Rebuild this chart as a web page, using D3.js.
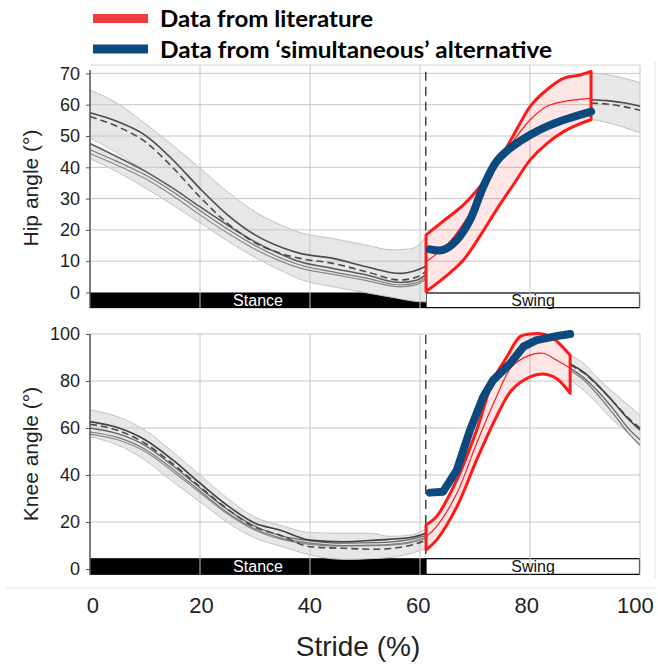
<!DOCTYPE html>
<html><head><meta charset="utf-8">
<script src="https://cdn.jsdelivr.net/npm/d3@7"></script>
<style>body{margin:0;background:#fff}svg{display:block}</style>
</head><body>
<svg id="c" width="658" height="664"></svg>
<script>
// ---------- DATA ----------
const xTicks = [0, 20, 40, 60, 80, 100];
const hipTicks = [0, 10, 20, 30, 40, 50, 60, 70];
const kneeTicks = [0, 20, 40, 60, 80, 100];
const toeOff = 61.1;
const legendLabels = ["Data from literature", "Data from \u2018simultaneous\u2019 alternative"];

// Hip - stance (normative gray)
const hipBandUpper = [[0,64.7],[5,60.4],[10,54],[15,47.1],[20,39.7],[25,32.2],[30,25.8],[35,21.3],[38.2,19.1],[44,17.3],[50,15.2],[55,13.6],[58.5,14],[61.1,17.8]];
const hipBandLower = [[0,42.8],[5,38.5],[10,33.5],[15,28],[20,22.3],[25,16.5],[30,11.2],[35,6.8],[38.2,4.2],[44,1.9],[50,0],[56,-1.9],[59.5,-2.9],[61.1,-3]];
const hipGapTop = [[0,49.4],[3,46.6],[6,43.4],[9,40]];
const hipGapBottom = [[0,47.6],[3,45.1],[6,42.5],[9,40]];
const hipSolid = [[0,57.4],[5,54.6],[10,50.3],[15,42.5],[20,33.2],[25,24.8],[30,18.4],[35,14.3],[38.2,12.5],[44.2,10.9],[50.3,8.2],[56.4,6.1],[59.5,7.2],[61.1,8.4]];
const hipDash = [[0,56.2],[5,53],[10,48.2],[15,40],[20,30.5],[25,22.1],[30,15.9],[35,12.3],[38.2,10.9],[44.2,9.3],[50.3,6.6],[56.4,4],[59.5,5],[61.1,6.8]];
const hipL1 = [[0,47.6],[5,43.3],[10,38.8],[15,33.4],[20,27.4],[25,21.5],[30,16.2],[35,12],[38.2,9.8],[44.2,7.7],[50.3,5.6],[56.4,3.2],[59.5,4],[61.1,5.8]];
const hipL2 = [[0,45.6],[5,41.8],[10,37.6],[15,32.3],[20,26.2],[25,20.3],[30,15],[35,10.8],[38.2,8.8],[44.2,6.6],[50.3,4.6],[56.4,2.4],[59.5,3.2],[61.1,5]];
const hipL3 = [[0,44.4],[5,40.6],[10,36.4],[15,31],[20,24.8],[25,19],[30,13.8],[35,9.8],[38.2,7.8],[44.2,5.8],[50.3,3.8],[56.4,1.8],[59.5,2.6],[61.1,4.4]];
// Hip - late swing (normative gray)
const hipBandUpperR = [[91.1,70.2],[94,69.6],[97,68.5],[100,67]];
const hipBandLowerR = [[91.1,55.3],[94,54.3],[97,52.8],[100,51]];
const hipSolidR = [[91.1,61.6],[94,61.3],[97,60.6],[100,59.5]];
const hipDashR = [[91.1,60.5],[94,60.2],[97,59.4],[100,58.2]];
// Hip - swing, literature (red) and alternative (blue)
const hipLitUpper = [[61.1,18.4],[64,22.5],[67.9,28],[71,34],[73.9,40.8],[76.6,49],[78.5,55],[80,59.4],[83,64.7],[86.1,68.4],[89.1,69.5],[91.1,70.6]];
const hipLitLower = [[61.1,0.3],[64.9,5.5],[67.9,10.4],[70.9,18],[73.9,26.4],[77,34.5],[80,42.3],[83,47.5],[86.1,51.4],[88.5,53.5],[91.1,55.2]];
const hipLitMean = [[61.1,9.8],[64.9,15.2],[67.9,22.1],[70.9,30.6],[73.9,40.2],[76.9,48.2],[80,55.1],[83,59.4],[86.1,61],[91.1,62]];
const hipAlt = [[61.8,13.8],[64.2,13.6],[66.7,16.8],[69.1,23.2],[71.5,33.8],[73.9,41.8],[76.4,46.1],[80,50.3],[83,53],[86.1,55.1],[91.1,57.8]];

// Knee - stance (normative gray)
const kneeBandUpper = [[0,67.7],[5,64.8],[10,59.1],[15,49.9],[20,40],[25,30.1],[30,22],[34.5,18.7],[40,15.5],[46,15.2],[51,15.2],[54.5,13.9],[58.5,14.5],[61.1,17.3]];
const kneeBandLower = [[0,56.3],[5,52.8],[10,46.4],[15,37.2],[20,28.6],[25,19.8],[30,13.2],[35,9.5],[40,6],[46,4.1],[51,4.4],[55,5],[58.5,6.7],[61.1,8.8]];
const kneeSolid = [[0,62.7],[5,60.2],[10,55],[15,46.5],[20,36.5],[25,27],[30,19.5],[34.5,16.6],[40,12.3],[46,11.6],[52,12.3],[58.5,13.5],[61.1,15.2]];
const kneeDash = [[0,61.6],[5,59],[10,53.5],[15,44.8],[20,35],[25,25.5],[30,17.8],[34.5,14.5],[40,9.5],[46,8.8],[52,8.4],[58.5,10.2],[61.1,12.3]];
const kneeG1 = [[0,60],[5,57.6],[10,52.6],[15,44],[20,34.5],[25,25.3],[30,18.2],[35,14],[40,12],[46,11],[52,11.2],[58,12.5],[61.1,14.2]];
const kneeG2 = [[0,58.3],[5,56],[10,51],[15,42.6],[20,33.2],[25,24],[30,17],[35,13],[40,11],[46,10],[52,10.2],[58,11.5],[61.1,13.5]];
const kneeG3 = [[0,57.4],[5,55],[10,50],[15,41.6],[20,32.4],[25,23.4],[30,16.5],[35,12.5],[40,10.5],[46,9.7],[52,9.9],[58,11],[61.1,13]];
// Knee - late swing (normative gray)
const kneeBandUpperR = [[87.3,91],[90,87],[92,82],[95,75.5],[98.5,68.5],[100,65.5]];
const kneeBandLowerR = [[87.3,80.5],[90,75.5],[92,71],[95,63.5],[98.5,56.3],[100,52]];
const kneeSolidR = [[87.3,87.2],[90,83.3],[92,79],[95,71.5],[98,63.5],[100,59.2]];
const kneeDashR = [[87.3,86.8],[90,83],[92,78.8],[95,71.5],[98,64],[100,60]];
const kneeG1R = [[87.3,85.5],[90,81],[92,76.5],[95,68.5],[98,59.5],[100,55]];
const kneeG2R = [[87.3,84.5],[90,80],[92,75],[95,66.5],[98,57.5],[100,52.8]];
// Knee - swing, literature (red) and alternative (blue)
const kneeLitUpper = [[61.1,18.7],[63,22.3],[66.7,37.9],[70.3,59.1],[73.3,80.4],[75.8,90.3],[78.2,98.9],[80,100],[82.4,100],[84.2,98.2],[87.3,91]];
const kneeLitLower = [[61.1,8.1],[63,12.3],[66.7,26.5],[70.3,46.4],[73.9,64.8],[76.7,76.2],[80,81.8],[82.4,83],[84.8,81.1],[87.3,74.8]];
const kneeLitMean = [[61.1,13.7],[63,18],[66.7,32.2],[70.3,53.5],[73.9,73.3],[76.7,86.1],[80,91],[82.4,91.8],[84.8,88.9],[87.3,85.4]];
const kneeAlt = [[61.8,32.5],[64.2,32.9],[66.7,42.1],[69.1,59.1],[71.5,73.3],[73.3,80.4],[76.4,87.5],[78.8,94.6],[81.2,97.4],[84.8,99.1],[87.3,100]];

// ---------- DRAW ----------
const svg = d3.select("#c");
const FONT = "'Liberation Sans', Arial, sans-serif";
const x = d3.scaleLinear().domain([0, 100]).range([90, 640]);
const xLab = d3.scaleLinear().domain([0, 100]).range([92.4, 634.8]);

const RED = "#ff1a1a", BLUE = "#0b4a7e";

// faint outer frame of embedded figure
svg.append("line").attr("x1", 655).attr("x2", 655).attr("y1", 62).attr("y2", 578).attr("stroke", "#e4e4e4");
svg.append("line").attr("x1", 6).attr("x2", 655).attr("y1", 588).attr("y2", 588).attr("stroke", "#e8e8e8");

const panels = [
  { y: d3.scaleLinear().domain([0, 70]).range([292.5, 73.4]), top: 65, barTop: 0, barBot: -5, ticks: hipTicks,
    title: "Hip angle (\u00b0)", titleY: 188,
    bands: [[hipBandUpper, hipBandLower], [hipBandUpperR, hipBandLowerR]], gap: [hipGapTop, hipGapBottom],
    lines: [[hipL3, "#8a8a8a", 1.2, null], [hipL2, "#777", 1.2, null], [hipL1, "#5a5a5a", 1.5, null], [hipSolid, "#4a4a4a", 1.6, null], [hipDash, "#4a4a4a", 1.6, "7,4"],
            [hipSolidR, "#4a4a4a", 1.6, null], [hipDashR, "#4a4a4a", 1.6, "7,4"]],
    litU: hipLitUpper, litL: hipLitLower, litM: hipLitMean, alt: hipAlt, altCurve: d3.curveCatmullRom.alpha(0.5),
    dashTop: 71.7 },
  { y: d3.scaleLinear().domain([0, 100]).range([569, 334]), top: 334, barTop: 4.6, barBot: -2.5, ticks: kneeTicks,
    title: "Knee angle (\u00b0)", titleY: 454,
    bands: [[kneeBandUpper, kneeBandLower], [kneeBandUpperR, kneeBandLowerR]], gap: null,
    lines: [[kneeG3, "#8a8a8a", 1.2, null], [kneeG2, "#777", 1.2, null], [kneeG1, "#666", 1.3, null], [kneeSolid, "#3f3f3f", 1.6, null], [kneeDash, "#4a4a4a", 1.6, "7,4"],
            [kneeG2R, "#777", 1.2, null], [kneeG1R, "#666", 1.3, null], [kneeSolidR, "#3f3f3f", 1.6, null], [kneeDashR, "#4a4a4a", 1.6, "7,4"]],
    litU: kneeLitUpper, litL: kneeLitLower, litM: kneeLitMean, alt: kneeAlt, altCurve: d3.curveLinear,
    dashTop: 335 }
];

function outline(upper, lower, lineGen) {
  const u = lineGen(upper);
  const l = lineGen(lower.slice().reverse());
  return u + "L" + l.substring(1) + "Z";
}

panels.forEach(p => {
  const g = svg.append("g");
  const y = p.y;
  const lineM = d3.line().x(d => x(d[0])).y(d => y(d[1])).curve(d3.curveMonotoneX);
  const lineC = d3.line().x(d => x(d[0])).y(d => y(d[1])).curve(d3.curveCatmullRom.alpha(0.5));
  const yBarTop = y(p.barTop), yBarBot = y(p.barBot);

  // phase bars
  g.append("rect").attr("x", x(0)).attr("y", yBarTop).attr("width", x(toeOff) - x(0)).attr("height", yBarBot - yBarTop).attr("fill", "#000");
  g.append("rect").attr("x", x(toeOff)).attr("y", yBarTop + 0.5).attr("width", x(100) - x(toeOff) - 0.5).attr("height", yBarBot - yBarTop - 1)
    .attr("fill", "#fff").attr("stroke", "#000").attr("stroke-width", 1.2);

  // normative bands
  p.bands.forEach(([u, l]) => {
    g.append("path").attr("d", outline(u, l, lineC)).attr("fill", "#e7e7e7").attr("stroke", "none");
    g.append("path").attr("d", lineM(u)).attr("fill", "none").attr("stroke", "#c2c2c2").attr("stroke-width", 1);
    g.append("path").attr("d", lineM(l)).attr("fill", "none").attr("stroke", "#c2c2c2").attr("stroke-width", 1);
  });
  if (p.gap) {
    g.append("path").attr("d", outline(p.gap[0], p.gap[1], lineC)).attr("fill", "#fff");
    g.append("path").attr("d", lineM(p.gap[0])).attr("fill", "none").attr("stroke", "#c8c8c8").attr("stroke-width", 1);
  }

  // grid
  const yTopPx = p.top;
  g.selectAll(".vg").data(xTicks.filter(t => t > 0)).join("line")
    .attr("x1", d => x(d)).attr("x2", d => x(d)).attr("y1", yTopPx).attr("y2", yBarBot)
    .attr("stroke", "#c6c6c6").attr("stroke-width", 1);
  g.selectAll(".hg").data(p.ticks.filter(t => t > 0)).join("line")
    .attr("x1", x(0)).attr("x2", x(100)).attr("y1", d => y(d)).attr("y2", d => y(d))
    .attr("stroke", "#c6c6c6").attr("stroke-width", 1);
  if (p.top < y(p.ticks[p.ticks.length - 1]) - 1) {
    g.append("line").attr("x1", x(0)).attr("x2", x(100)).attr("y1", p.top).attr("y2", p.top).attr("stroke", "#d4d4d4");
  }

  // bar labels
  g.append("text").attr("x", (x(0) + x(toeOff)) / 2).attr("y", (yBarTop + yBarBot) / 2).attr("dy", "0.36em")
    .attr("text-anchor", "middle").attr("fill", "#fff").attr("font-family", FONT).attr("font-size", 16).text("Stance");
  g.append("text").attr("x", (x(toeOff) + x(100)) / 2).attr("y", (yBarTop + yBarBot) / 2).attr("dy", "0.36em")
    .attr("text-anchor", "middle").attr("fill", "#111").attr("font-family", FONT).attr("font-size", 16).text("Swing");

  // normative lines
  p.lines.forEach(([data, col, w, dash]) => {
    g.append("path").attr("d", lineM(data)).attr("fill", "none").attr("stroke", col).attr("stroke-width", w)
      .attr("stroke-dasharray", dash);
  });

  // y axis
  const ax = g.append("g").attr("transform", `translate(${x(0)},0)`)
    .call(d3.axisLeft(y).tickValues(p.ticks).tickSize(4).tickPadding(6).tickFormat(d3.format("d")));
  ax.select(".domain").remove();
  ax.selectAll(".tick line").attr("stroke", "#555");
  ax.selectAll(".tick text").attr("font-family", FONT).attr("font-size", 18).attr("fill", "#222");
  g.append("line").attr("x1", x(0)).attr("x2", x(0)).attr("y1", p.top + (p.top === 65 ? 5 : 0)).attr("y2", yBarBot)
    .attr("stroke", "#555").attr("stroke-width", 1.5);

  // y title
  g.append("text").attr("transform", `translate(38,${p.titleY}) rotate(-90)`).attr("text-anchor", "middle")
    .attr("font-family", FONT).attr("font-size", 21).attr("fill", "#222").text(p.title);

  // toe-off dashed line
  g.append("line").attr("x1", x(toeOff) - 0.3).attr("x2", x(toeOff) - 0.3).attr("y1", p.dashTop).attr("y2", yBarTop)
    .attr("stroke", "#444").attr("stroke-width", 1.5).attr("stroke-dasharray", "9,6");

  // literature (red)
  g.append("path").attr("d", outline(p.litU, p.litL, lineC)).attr("fill", "rgba(255,60,60,0.13)")
    .attr("stroke", RED).attr("stroke-width", 3).attr("stroke-linejoin", "round");
  g.append("path").attr("d", lineC(p.litM)).attr("fill", "none").attr("stroke", RED).attr("stroke-width", 1.2);

  // alternative (blue)
  const lineAlt = d3.line().x(d => x(d[0])).y(d => y(d[1])).curve(p.altCurve);
  g.append("path").attr("d", lineAlt(p.alt)).attr("fill", "none").attr("stroke", BLUE).attr("stroke-width", 8)
    .attr("stroke-linecap", "round").attr("stroke-linejoin", "round");
});

// x axis labels
const xa = svg.append("g").attr("transform", "translate(0,597.4)")
  .call(d3.axisBottom(xLab).tickValues(xTicks).tickSize(0).tickPadding(0).tickFormat(d3.format("d")));
xa.select(".domain").remove();
xa.selectAll(".tick text").attr("font-family", FONT).attr("font-size", 22).attr("fill", "#222");

svg.append("text").attr("x", 358).attr("y", 656).attr("text-anchor", "middle")
  .attr("font-family", FONT).attr("font-size", 28).attr("fill", "#222").text("Stride (%)");

// legend
const legColors = ["#f03c3c", "#0c4a7e"];
const legY = [18.5, 49];
const legLen = [213, 392];
legendLabels.forEach((t, i) => {
  svg.append("rect").attr("x", 93).attr("y", legY[i] - 4.5).attr("width", 55).attr("height", 9).attr("fill", legColors[i]);
  svg.append("text").attr("x", 160).attr("y", legY[i] + 8.5).attr("font-family", "Lato, 'Open Sans', sans-serif")
    .attr("font-weight", "bold").attr("font-size", 23).attr("fill", "#000")
    .attr("textLength", legLen[i]).attr("lengthAdjust", "spacingAndGlyphs").text(t);
});
</script>
</body></html>
